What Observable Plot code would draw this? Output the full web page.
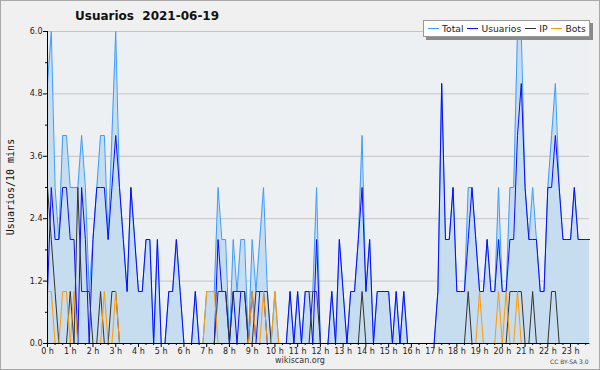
<!DOCTYPE html>
<html><head><meta charset="utf-8">
<script src="https://cdn.jsdelivr.net/npm/d3@7"></script>
<script src="https://cdn.jsdelivr.net/npm/@observablehq/plot@0.6"></script>
<style>
body{margin:0;background:#f0f0f0;}
#wrap{position:relative;width:600px;height:370px;background:#f0f0f0;font-family:"DejaVu Sans",sans-serif;overflow:hidden}
#chart{position:absolute;left:0;top:0}
#border{position:absolute;left:0;top:0;width:598px;height:368px;border:1px solid #a8a8a8;pointer-events:none}
#title{position:absolute;left:75px;top:9px;font-weight:bold;font-size:12px;color:#111;white-space:pre}
#ylabel{position:absolute;left:10px;top:187px;font-family:"DejaVu Sans Mono",monospace;font-size:10px;color:#111;transform:translate(-50%,-50%) rotate(-90deg);white-space:pre}
#legend{position:absolute;left:423px;top:20px;width:167px;height:17px;background:#fff;border:1px solid #999;box-shadow:3px 3px 0 #8a8a8a;font-size:9.2px;color:#222;display:flex;align-items:center;padding-left:4px;box-sizing:border-box;white-space:nowrap}
#legend span.it{display:flex;align-items:center;margin-right:4px}
#legend i{display:inline-block;width:11px;height:0;border-top:1px solid;margin-right:3px}
#foot{position:absolute;left:0;width:600px;top:356px;text-align:center;font-size:8px;color:#333}
#cc{position:absolute;left:550px;top:358px;font-size:6px;color:#444;white-space:pre}
</style></head><body>
<div id="wrap">
<div id="chart"></div>
<div id="title">Usuarios  2021-06-19</div>
<div id="ylabel">Usuarios/10 mins</div>
<div id="legend"></div>
<div id="foot">wikiscan.org</div>
<div id="cc">CC BY-SA 3.0</div>
<div id="border"></div>
</div>
<script>
const seriesNames = ["Total", "Usuarios", "IP", "Bots"];
const seriesColors = ["#3d9cff", "#0a0aff", "#333333", "#ff9a00"];
const hours = d3.range(24).map(h => h + " h");
const yTicks = [0, 1.2, 2.4, 3.6, 4.8, 6.0];

const total = [5,6,3,2,4,4,3,3,3,4, 3,1,2,3,4,4,2,4,6,3, 2,1,3,2,1,1,2,2,0,2, 0,0,1,1,2,1,0,0,0,1,
  0,0,1,1,1,3,2,2,0,2, 1,2,2,0,2,1,2,3,1,0, 1,0,0,0,1,0,1,0,1,1, 1,3,0,0,0,1,0,2,1,0,
  1,1,2,4,1,2,0,1,1,1, 1,0,1,0,1,0,0,0,0,0, 0,0,0,1,5,2,2,3,1,1, 1,3,3,2,1,1,2,1,1,3,
  1,1,3,3,6,6,3,2,3,2, 1,1,3,4,5,3,2,2,2,3, 2,2,2,2];
const users = [1,3,2,2,3,3,2,2,0,3, 2,0,2,3,3,3,2,3,4,3, 2,1,3,2,1,1,2,2,0,2, 0,0,1,1,2,1,0,0,0,1,
  0,0,0,0,0,2,1,1,0,1, 0,1,1,0,1,0,1,1,0,0, 0,0,0,0,1,0,1,0,1,1, 0,2,0,0,0,1,0,2,1,0,
  1,1,2,3,1,2,0,1,1,1, 1,0,1,0,1,0,0,0,0,0, 0,0,0,1,5,2,2,3,1,1, 1,2,3,2,1,1,2,1,1,2,
  1,1,2,2,4,5,3,2,2,2, 1,1,3,3,4,3,2,2,2,3, 2,2,2,2];
const ip = [3,2,1,0,0,0,1,0,3,1, 1,1,0,0,1,0,0,1,1,0, 0,0,0,0,0,0,0,0,0,0, 0,0,0,0,0,0,0,0,0,0,
  0,0,0,0,0,1,1,1,0,1, 1,1,1,0,0,1,1,1,1,0, 0,0,0,0,0,0,0,0,0,0, 1,1,0,0,0,0,0,0,0,0,
  0,0,0,1,0,0,0,0,0,0, 0,0,0,0,0,0,0,0,0,0, 0,0,0,0,0,0,0,0,0,0, 0,1,0,0,0,0,0,0,0,0,
  0,0,1,1,1,1,0,0,1,0, 0,0,0,1,1,0,0,0,0,0, 0,0,0,0];
const bots = [1,1,0,0,1,1,0,1,0,0, 0,0,0,0,0,1,0,0,1,0, 0,0,0,0,0,0,0,0,0,0, 0,0,0,0,0,0,0,0,0,0,
  0,0,1,1,1,0,0,0,0,0, 0,0,0,0,1,0,0,1,0,0, 1,0,0,0,0,0,0,0,0,0, 0,0,0,0,0,0,0,0,0,0,
  0,0,0,0,0,0,0,0,0,0, 0,0,0,0,0,0,0,0,0,0, 0,0,0,0,0,0,0,0,0,0, 0,0,0,0,1,0,0,0,0,1,
  0,1,0,0,1,0,0,0,0,0, 0,0,0,0,0,0,0,0,0,0, 0,0,0,0];

const data = total.map((t, i) => ({i, total: t, users: users[i], ip: ip[i], bots: bots[i]}));
const hourIdx = hours.map((_, h) => h * 6);
const minorX = d3.range(0, 144, 2).filter(i => i % 6 !== 0);

const chart = Plot.plot({
  width: 600, height: 370,
  marginLeft: 47, marginRight: 11, marginTop: 31, marginBottom: 27,
  style: {background: "transparent", fontFamily: "DejaVu Sans, sans-serif", fontSize: "8px", color: "#222"},
  x: {type: "linear", domain: [0, 143]},
  y: {domain: [0, 6]},
  marks: [
    Plot.frame({fill: "#edf0f3", stroke: "none"}),
    Plot.gridY(yTicks.slice(1), {stroke: "#c4c4c4", strokeOpacity: 1}),
    Plot.areaY(data, {x: "i", y: "total", fill: "#c6dcef"}),
    Plot.lineY(data, {x: "i", y: "total", stroke: seriesColors[0], strokeWidth: 1}),
    Plot.lineY(data, {x: "i", y: "users", stroke: seriesColors[1], strokeWidth: 1}),
    Plot.lineY(data, {x: "i", y: "ip", stroke: seriesColors[2], strokeWidth: 1}),
    Plot.lineY(data, {x: "i", y: "bots", stroke: seriesColors[3], strokeWidth: 1}),
    Plot.axisY({ticks: yTicks, tickFormat: d3.format(".1f"), tickSize: 4, tickPadding: 1, label: null, stroke: "#000"}),
    Plot.axisY({ticks: [0.6, 1.8, 3.0, 4.2, 5.4], tickFormat: () => "", tickSize: 2, label: null, stroke: "#000"}),
    Plot.axisX({ticks: hourIdx, tickFormat: i => hours[i / 6], tickSize: 4, tickPadding: 1, label: null, stroke: "#000"}),
    Plot.axisX({ticks: minorX, tickFormat: () => "", tickSize: 2, label: null, stroke: "#000"}),
    Plot.ruleX([0], {stroke: "#000"}),
    Plot.ruleY([0], {stroke: "#000"})
  ]
});
document.getElementById("chart").appendChild(chart);

const lg = document.getElementById("legend");
seriesNames.forEach((n, k) => {
  const s = document.createElement("span");
  s.className = "it";
  s.innerHTML = `<i style="border-color:${seriesColors[k]}"></i>${n}`;
  lg.appendChild(s);
});
</script>
</body></html>
